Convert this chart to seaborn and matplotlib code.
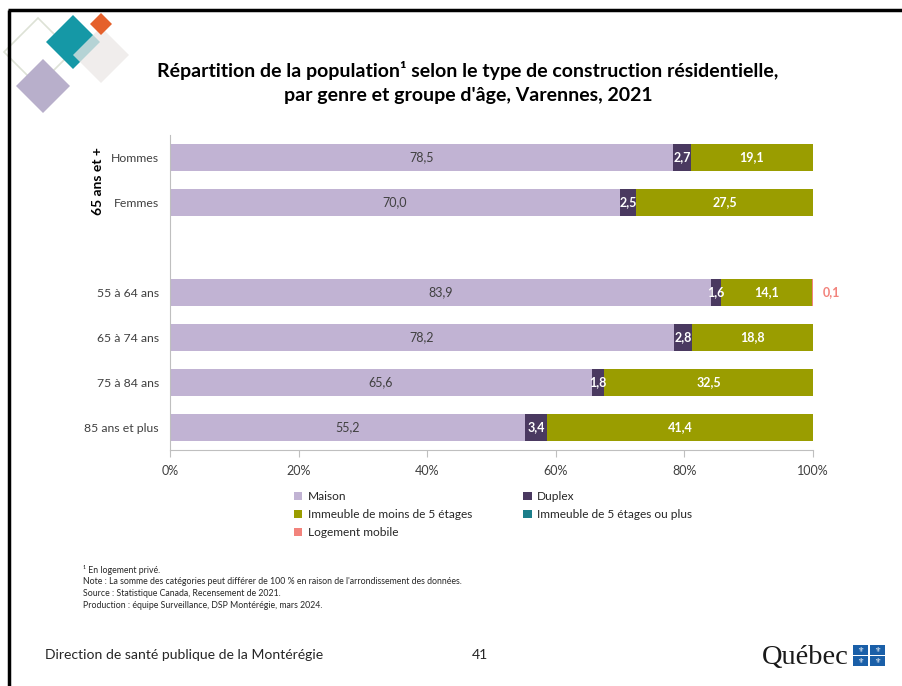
import numpy as np
import pandas as pd
import matplotlib
matplotlib.use("Agg")
import matplotlib.pyplot as plt
from matplotlib.patches import Polygon, Patch, Rectangle
import seaborn as sns

# -------------------------------
# DONNÉES / DATA
# -------------------------------
groupes = ["Hommes", "Femmes", " ", "55 à 64 ans", "65 à 74 ans", "75 à 84 ans", "85 ans et plus"]
lignes = ["Hommes", "Femmes", "55 à 64 ans", "65 à 74 ans", "75 à 84 ans", "85 ans et plus"]
maison = [78.5, 70.0, 83.9, 78.2, 65.6, 55.2]
duplex = [2.7, 2.5, 1.6, 2.8, 1.8, 3.4]
immeuble_moins5 = [19.1, 27.5, 14.1, 18.8, 32.5, 41.4]
immeuble_5plus = [0.0, 0.0, 0.0, 0.0, 0.0, 0.0]
logement_mobile = [0.0, 0.0, 0.1, 0.0, 0.0, 0.0]

categories = ["Maison", "Duplex", "Immeuble de moins de 5 étages",
              "Immeuble de 5 étages ou plus", "Logement mobile"]
couleurs = ["#C1B3D3", "#4A3960", "#9A9D00", "#1B7E8A", "#F2837C"]

ticks_x = [0, 20, 40, 60, 80, 100]

# -------------------------------
# STYLE
# -------------------------------
sns.set_theme(style="white")
plt.rcParams["font.family"] = ["Lato", "DejaVu Sans"]

df = pd.DataFrame({
    "groupe": lignes,
    categories[0]: maison,
    categories[1]: duplex,
    categories[2]: immeuble_moins5,
    categories[3]: immeuble_5plus,
    categories[4]: logement_mobile,
})
# graphique 100 % empilé : normaliser chaque ligne
totaux = df[categories].sum(axis=1)
pct = df[categories].div(totaux, axis=0) * 100
cumul = pct.cumsum(axis=1)
cumul["groupe"] = df["groupe"]

fig = plt.figure(figsize=(9.02, 6.86), dpi=100)

# calque de décor (cadre, logo) en pixels
deco = fig.add_axes([0, 0, 1, 1], zorder=0)
deco.set_xlim(0, 902)
deco.set_ylim(686, 0)
deco.axis("off")
deco.plot([8, 902], [10, 10], color="black", lw=2.5, solid_capstyle="butt")
deco.plot([9, 9], [10, 686], color="black", lw=2.5, solid_capstyle="butt")


def losange(cx, cy, r, **kw):
    return Polygon([(cx, cy - r), (cx + r, cy), (cx, cy + r), (cx - r, cy)], closed=True, **kw)


deco.add_patch(losange(38, 52, 34, fill=False, edgecolor="#DDE2D6", lw=1.2))
deco.add_patch(losange(43, 86, 27, facecolor="#B8AFCB", edgecolor="none"))
deco.add_patch(losange(73, 42, 27, facecolor="#1598A6", edgecolor="none"))
deco.add_patch(losange(101, 55, 28, facecolor="#ECE8E6", edgecolor="none", alpha=0.75))
deco.add_patch(losange(101, 24, 11, facecolor="#E5602B", edgecolor="none"))

# -------------------------------
# GRAPHIQUE PRINCIPAL
# -------------------------------
ax = fig.add_axes([170 / 902, 1 - 450 / 686, 643 / 902, 315 / 686], zorder=2)
ax.patch.set_alpha(0)

# barres empilées : cumuls dessinés du plus grand au plus petit
for cat, col in zip(categories[::-1], couleurs[::-1]):
    sns.barplot(data=cumul, x=cat, y="groupe", order=groupes, orient="h",
                color=col, width=0.62, linewidth=0, saturation=1, ax=ax)

ypos = {g: i for i, g in enumerate(groupes)}
for i, row in pct.iterrows():
    y = ypos[df.loc[i, "groupe"]]
    gauche = 0
    for j, cat in enumerate(categories):
        v = row[cat]
        brut = df.loc[i, cat]
        txt = f"{brut:.1f}".replace(".", ",")
        if brut > 0:
            if cat == "Maison":
                ax.text(gauche + v / 2, y, txt, ha="center", va="center",
                        fontsize=9, color="#404040")
            elif cat == "Logement mobile":
                ax.text(101.5, y, txt, ha="left", va="center", fontsize=9,
                        fontweight="bold", color=couleurs[j], clip_on=False)
            else:
                ax.text(gauche + v / 2, y, txt, ha="center", va="center",
                        fontsize=9, fontweight="bold", color="white")
        gauche += v

ax.set_xlim(0, 100)
ax.set_ylim(6.5, -0.5)
ax.set_xticks(ticks_x)
ax.set_xticklabels([f"{t}%" for t in ticks_x], fontsize=9, color="#404040")
ax.tick_params(axis="x", bottom=True, length=5, color="#BFBFBF", width=0.8, pad=6)
ax.tick_params(axis="y", left=False, length=0, labelsize=8.8, labelcolor="#404040", pad=8)
ax.set_xlabel("")
ax.set_ylabel("")
for s in ["top", "right"]:
    ax.spines[s].set_visible(False)
for s in ["left", "bottom"]:
    ax.spines[s].set_color("#BFBFBF")
    ax.spines[s].set_linewidth(0.8)

fig.text(98 / 902, 1 - 181 / 686, "65 ans et +", rotation=90, ha="center", va="center",
         fontsize=10, fontweight="bold", color="black")

# -------------------------------
# TITRE
# -------------------------------
fig.text(468 / 902, 1 - 70 / 686,
         "Répartition de la population¹ selon le type de construction résidentielle,",
         ha="center", va="center", fontsize=14, fontweight="bold", color="black")
fig.text(468 / 902, 1 - 95 / 686, "par genre et groupe d'âge, Varennes, 2021",
         ha="center", va="center", fontsize=14, fontweight="bold", color="black")

# -------------------------------
# LÉGENDE
# -------------------------------
poignees = [Patch(facecolor=c, edgecolor="none", label=l) for c, l in zip(couleurs, categories)]
ordre = [0, 2, 4, 1, 3]
fig.legend([poignees[k] for k in ordre], [categories[k] for k in ordre],
           ncol=2, loc="upper left", bbox_to_anchor=(294 / 902, 1 - 491 / 686),
           frameon=False, fontsize=8.6, handlelength=0.7, handleheight=0.7,
           handletextpad=0.45, columnspacing=4.3, labelspacing=0.6,
           labelcolor="#262626", borderaxespad=0, borderpad=0)

# -------------------------------
# NOTES
# -------------------------------
notes = ["¹ En logement privé.",
         "Note : La somme des catégories peut différer de 100 % en raison de l'arrondissement des données.",
         "Source : Statistique Canada, Recensement de 2021.",
         "Production : équipe Surveillance, DSP Montérégie, mars 2024."]
for k, n in enumerate(notes):
    fig.text(83 / 902, 1 - (570 + k * 11.7) / 686, n, ha="left", va="center",
             fontsize=6.3, color="#262626")

# -------------------------------
# PIED DE PAGE
# -------------------------------
fig.text(45 / 902, 1 - 655 / 686, "Direction de santé publique de la Montérégie",
         ha="left", va="center", fontsize=10.1, color="#262626")
fig.text(480 / 902, 1 - 655 / 686, "41", ha="center", va="center", fontsize=10.1, color="#262626")
fig.text(849 / 902, 1 - 657 / 686, "Québec", ha="right", va="center", fontsize=20.5,
         color="#1A1A1A", family="Liberation Serif")
for dx in (0, 1):
    for dy in (0, 1):
        deco.add_patch(Rectangle((853 + dx * 17, 645 + dy * 11), 15, 9.5,
                                 facecolor="#1A5FA8", edgecolor="none"))
        deco.text(860.5 + dx * 17, 650 + dy * 11, "⚜", ha="center", va="center",
                  fontsize=5, color="white", family="DejaVu Sans")

fig.savefig("out.png", dpi=100, facecolor="white")
